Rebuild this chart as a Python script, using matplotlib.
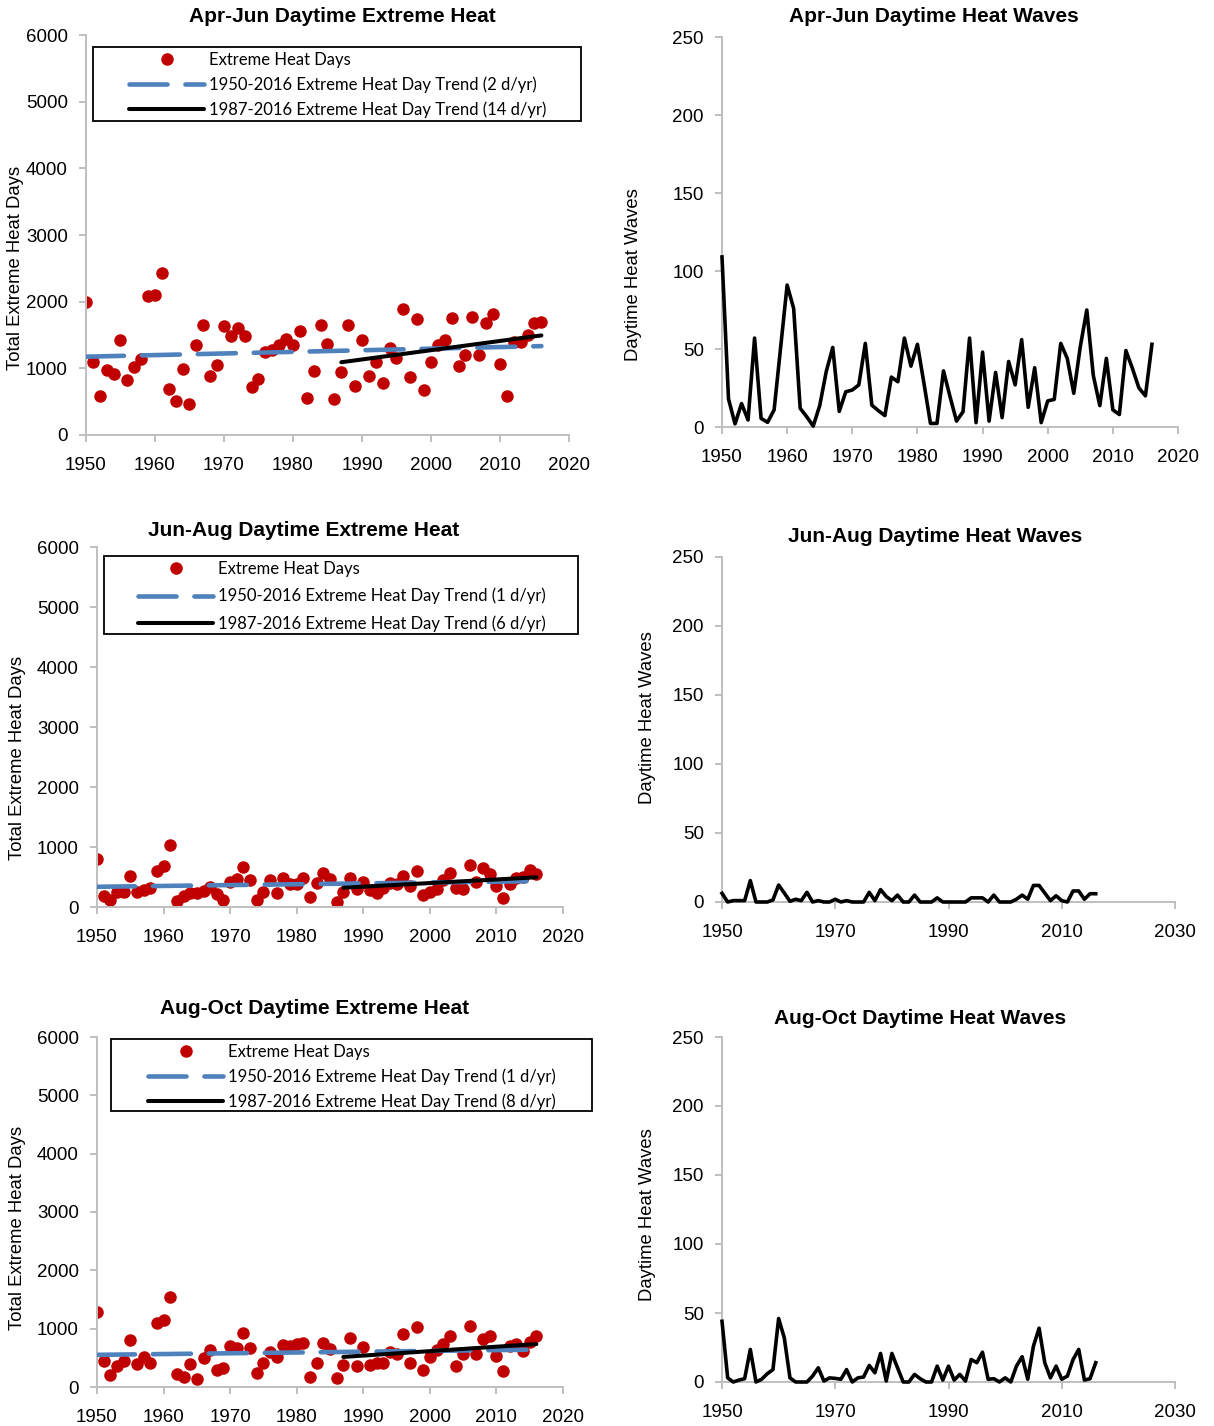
import numpy as np
import matplotlib
matplotlib.use("Agg")
import matplotlib.pyplot as plt
from matplotlib.patches import Rectangle
from matplotlib.lines import Line2D

years = np.arange(1950, 2017)

# extreme heat days
apr_jun_days = [1990, 1100, 585, 975, 915, 1425, 825, 1015, 1135, 2085,
                2105, 2425, 685, 515, 985, 465, 1345, 1650, 890, 1050,
                1635, 1490, 1610, 1485, 725, 845, 1250, 1275, 1350, 1435,
                1350, 1565, 560, 960, 1645, 1365, 535, 950, 1645, 735,
                1420, 885, 1090, 780, 1310, 1150, 1885, 870, 1740, 670,
                1100, 1350, 1425, 1755, 1040, 1195, 1765, 1195, 1680, 1820,
                1065, 585, 1400, 1400, 1500, 1685, 1690]
jun_aug_days = [795, 183, 117, 255, 255, 517, 255, 283, 311, 605,
                683, 1033, 105, 183, 228, 228, 272, 339, 217, 117,
                422, 461, 672, 450, 117, 255, 450, 239, 489, 383,
                383, 489, 172, 394, 561, 461, 89, 255, 478, 294,
                422, 283, 239, 311, 394, 390, 517, 350, 605, 200,
                255, 294, 450, 561, 311, 294, 700, 411, 645, 550,
                350, 155, 383, 478, 500, 617, 550]
aug_oct_days = [1291, 446, 206, 360, 451, 806, 394, 509, 417, 1103,
                1149, 1537, 223, 166, 389, 131, 503, 634, 291, 331,
                703, 663, 920, 674, 246, 417, 606, 520, 720, 703,
                737, 760, 166, 417, 760, 646, 149, 377, 834, 360,
                691, 377, 417, 417, 606, 566, 903, 406, 1034, 291,
                509, 634, 731, 874, 360, 566, 1046, 566, 817, 874,
                531, 280, 709, 737, 617, 777, 874]

# daytime heat waves
apr_jun_waves = [109, 18, 2, 15, 4.5, 57, 5.5, 3, 11, 51,
                 91, 76, 12, 6.6, 0.6, 13.7, 35.5, 51, 10, 22.6,
                 23.7, 27, 53.6, 14, 10.5, 7.3, 32, 29, 57, 39,
                 53, 28, 2.3, 2.3, 36, 19.5, 3.8, 9.8, 57, 2.8,
                 48, 3.8, 35, 6, 42, 27, 56, 12.6, 38, 2.8,
                 16.7, 17.7, 53.6, 44, 21.6, 51.5, 75, 33, 13.7, 44,
                 11, 8, 49, 37.6, 25, 20, 53]
jun_aug_waves = [6.3, 0, 1, 1, 1, 15.5, 0, 0, 0, 1.5,
                 12.3, 6.5, 0.5, 2, 1, 7, 0, 1, 0, 0,
                 2, 0, 1, 0, 0, 0, 7, 1, 9, 4,
                 1, 5, 0, 0, 5, 0, 0, 0, 3, 0,
                 0, 0, 0, 0, 3, 3, 3, 0, 5, 0,
                 0, 0, 2, 5, 2, 12, 12, 6.5, 1, 4.5,
                 1, 0, 8, 8, 2, 6, 6]
aug_oct_waves = [44, 3, 0, 1.4, 2.4, 23.6, 0, 2, 6, 9,
                 46, 32, 3, 0, 0, 0, 4.3, 10.3, 0.7, 3,
                 2.6, 2, 9, 0, 3, 3.6, 12, 6.7, 20.7, 0.7,
                 20.7, 10.3, 0, 0, 5.5, 2.4, 0, 0, 11.5, 1.4,
                 11.5, 1.4, 5.5, 0.7, 16.3, 14, 21.6, 2, 2.4, 0,
                 3, 0, 11.5, 18.3, 2, 26, 39, 14, 3, 11.5,
                 2, 4.3, 16.3, 23.6, 1.4, 2.4, 14]

seasons = ["Apr-Jun", "Jun-Aug", "Aug-Oct"]
long_rates = ["2 d/yr", "1 d/yr", "1 d/yr"]
recent_rates = ["14 d/yr", "6 d/yr", "8 d/yr"]

RED = "#C00000"
BLUE = "#4F81BD"
GREY = "#BFBFBF"
W, H = 1214, 1426

plt.rcParams["font.family"] = ["Liberation Sans", "DejaVu Sans"]

fig = plt.figure(figsize=(W / 100, H / 100), dpi=100)


def box(l, t, r, b):
    return [l / W, 1 - b / H, (r - l) / W, (b - t) / H]


def fxy(x, y):
    return x / W, 1 - y / H


def style_axes(ax, xmax, xstep, ymax, ystep):
    ax.set_xlim(1950, xmax)
    ax.set_xticks(np.arange(1950, xmax + 1, xstep))
    ax.set_ylim(0, ymax)
    ax.set_yticks(np.arange(0, ymax + 1, ystep))
    for s in ["top", "right"]:
        ax.spines[s].set_visible(False)
    for s in ["left", "bottom"]:
        ax.spines[s].set_color(GREY)
        ax.spines[s].set_linewidth(1.4)
    ax.tick_params(direction="out", length=5, width=1.4, color=GREY,
                   labelsize=13.5)
    ax.tick_params(axis="x", pad=10.5)
    ax.tick_params(axis="y", pad=8)


def days_panel(pos, days, i, title_xy, ylab_xy, frame, hx, rows_y, spacing):
    ax = fig.add_axes(box(*pos))
    days = np.array(days, dtype=float)
    ax.plot(years, days, "o", color=RED, ms=8, zorder=2)

    # linear trends, full record and since 1987
    p_all = np.polyfit(years, days, 1)
    ax.plot(years, np.polyval(p_all, years), color=BLUE, lw=3.3,
            dashes=(8.3, 3.9), dash_capstyle="round", zorder=3)
    rec = years >= 1987
    p_rec = np.polyfit(years[rec], days[rec], 1)
    ax.plot(years[rec], np.polyval(p_rec, years[rec]), color="black",
            lw=2.9, solid_capstyle="round", zorder=4)
    style_axes(ax, 2020, 10, 6000, 1000)

    handles = [Line2D([], [], ls="none", marker="o", color=RED, ms=8),
               Line2D([], [], color=BLUE, lw=3.3, dashes=(8.3, 3.9),
                      dash_capstyle="round"),
               Line2D([], [], color="black", lw=2.9, solid_capstyle="round")]
    labels = ["Extreme Heat Days",
              "1950-2016 Extreme Heat Day Trend (%s)" % long_rates[i],
              "1987-2016 Extreme Heat Day Trend (%s)" % recent_rates[i]]
    ax.legend(handles, labels, loc="upper left",
              bbox_to_anchor=fxy(hx, rows_y - 7), bbox_transform=fig.transFigure,
              frameon=False, borderpad=0, borderaxespad=0, handlelength=4.5,
              handletextpad=0.3, labelspacing=spacing, numpoints=1,
              prop={"family": "Lato", "size": 12.0})
    l, t, r, b = frame
    fig.add_artist(Rectangle(fxy(l, b), (r - l) / W, (b - t) / H,
                             transform=fig.transFigure, fill=False,
                             edgecolor="black", lw=1.3))
    fig.text(*fxy(*title_xy), "%s Daytime Extreme Heat" % seasons[i],
             ha="center", va="center", fontsize=15, fontweight="bold")
    fig.text(*fxy(*ylab_xy), "Total Extreme Heat Days", rotation=90,
             ha="center", va="center", fontsize=13.3)


def waves_panel(pos, waves, i, xmax, xstep, title_xy, ylab_xy):
    ax = fig.add_axes(box(*pos))
    ax.plot(years, waves, color="black", lw=2.6, clip_on=False, zorder=3)
    style_axes(ax, xmax, xstep, 250, 50)
    fig.text(*fxy(*title_xy), "%s Daytime Heat Waves" % seasons[i],
             ha="center", va="center", fontsize=15, fontweight="bold")
    fig.text(*fxy(*ylab_xy), "Daytime Heat Waves", rotation=90,
             ha="center", va="center", fontsize=13.3)


days_panel((86, 35, 569, 435), apr_jun_days, 0, (342, 17), (16, 268),
           (93, 47, 581, 121), 129, 59, 0.5)
days_panel((97, 547, 563, 907), jun_aug_days, 1, (304, 530), (18, 758),
           (104, 556, 578, 634), 138, 568, 0.65)
days_panel((97, 1037, 563, 1387), aug_oct_days, 2, (315, 1008), (18, 1228),
           (111, 1039, 592, 1111), 148, 1051, 0.5)

waves_panel((722, 37, 1178, 427), apr_jun_waves, 0, 2020, 10, (934, 17), (634, 275))
waves_panel((722, 557, 1175, 902), jun_aug_waves, 1, 2030, 20, (935, 537), (647, 718))
waves_panel((722, 1037, 1175, 1382), aug_oct_waves, 2, 2030, 20, (920, 1019), (648, 1215))

fig.savefig("out.png", dpi=100)
